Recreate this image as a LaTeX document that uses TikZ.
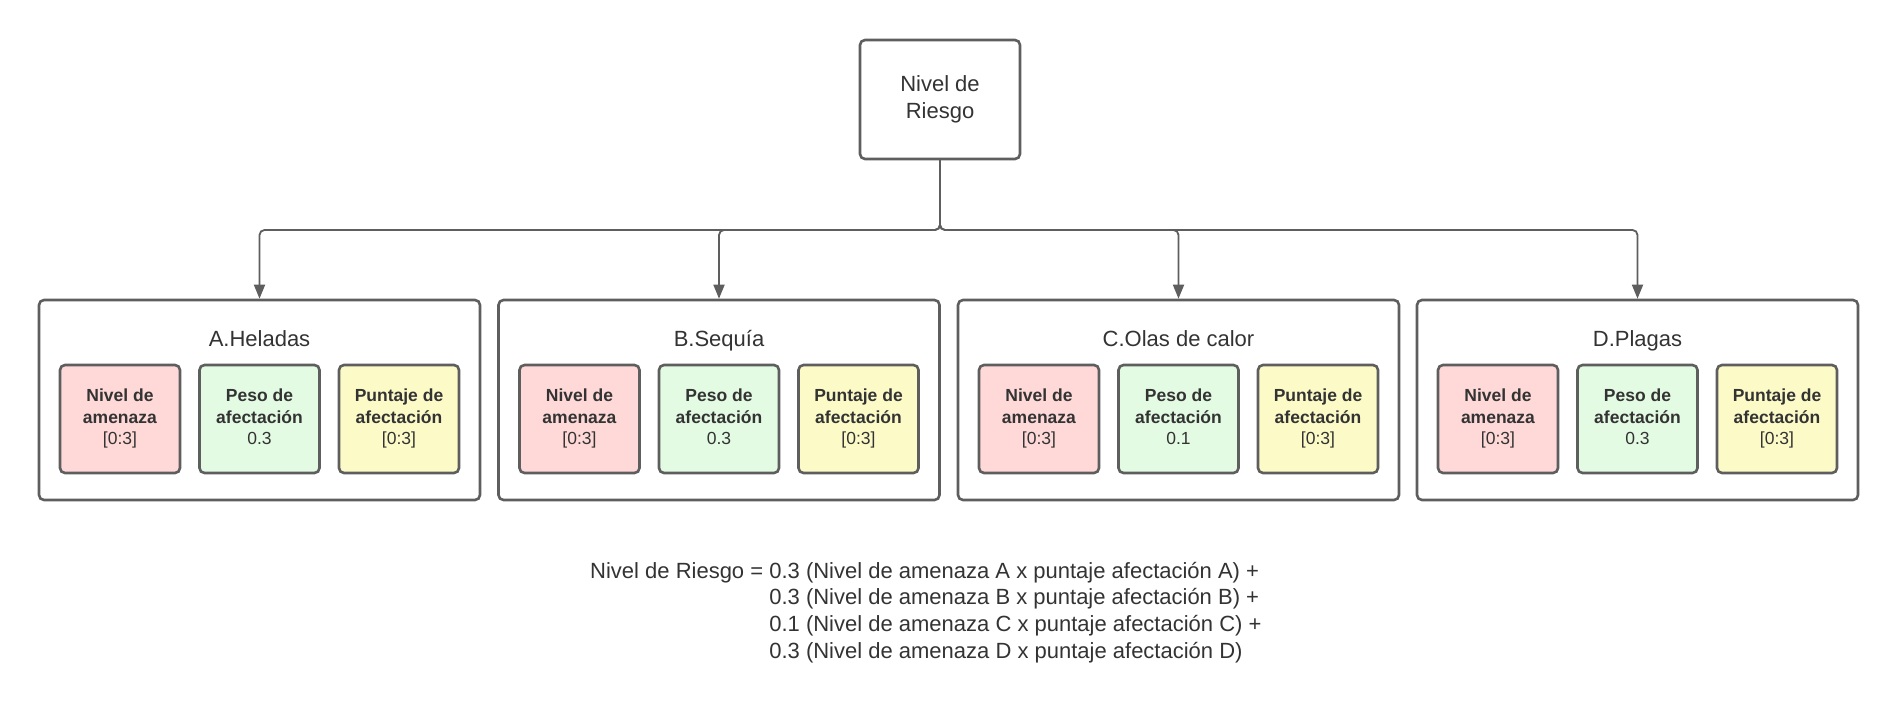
\documentclass[tikz,border=0pt]{standalone}
\usepackage{fontspec}
\setmainfont{Liberation Sans}
\usetikzlibrary{arrows.meta}
\definecolor{edge}{HTML}{5E5E5E}
\definecolor{txt}{HTML}{333333}
\definecolor{redf}{HTML}{FFD8D8}
\definecolor{greenf}{HTML}{E3FAE3}
\definecolor{yellowf}{HTML}{FCFBC8}
\tikzset{
  box/.style={draw=edge, line width=2.6pt, rounded corners=5pt, inner sep=0pt},
  topbox/.style={box, fill=white, minimum width=160pt, minimum height=119pt, align=center, text=txt, font=\fontsize{22}{26.5}\selectfont},
  group/.style={box, fill=white, minimum width=441pt, minimum height=200pt},
  inner/.style={box, minimum width=120pt, minimum height=108pt, align=center, text=txt, font=\fontsize{17.5}{21.5}\selectfont},
  gtitle/.style={text=txt, font=\fontsize{22}{26}\selectfont, inner sep=0pt, anchor=base},
  conn/.style={draw=edge, line width=1.8pt, rounded corners=5pt, -{Triangle[length=14pt,width=11pt]}},
}
\begin{document}
\begin{tikzpicture}[x=1pt,y=-1pt]
\useasboundingbox (0,0) rectangle (1897,720);
\node[topbox] (top) at (940,99.5) {Nivel de\\Riesgo};
\foreach \n/\gx/\title/\w in {A/39/A.Heladas/0.3, B/498.5/B.Sequía/0.3, C/958/C.Olas de calor/0.1, D/1417/D.Plagas/0.3}{
  \node[group] (\n) at ({\gx+220.5},400) {};
  \node[gtitle] (\n t) at ({\gx+220.5},346) {\title};
  \node[inner, fill=redf] (\n 1) at ({\gx+81},419) {\strut\textbf{Nivel de}\\\textbf{amenaza}\\{}[0:3]\strut};
  \node[inner, fill=greenf] (\n 2) at ({\gx+220.5},419) {\strut\textbf{Peso de}\\\textbf{afectación}\\\w\strut};
  \node[inner, fill=yellowf] (\n 3) at ({\gx+360},419) {\strut\textbf{Puntaje de}\\\textbf{afectación}\\{}[0:3]\strut};
}
\coordinate (j) at (940,230);
\foreach \n in {A,B,C,D}{
  \draw[conn] (top.south) -- (j) -| (\n.north);
}
\node[anchor=north west, inner sep=0pt, text=txt, font=\fontsize{22}{26.6}\selectfont] (f) at (590,559.5) {%
\begin{tabular}{@{}r@{ }l@{}}
Nivel de Riesgo = & 0.3 (Nivel de amenaza A x puntaje afectación A) +\\
 & 0.3 (Nivel de amenaza B x puntaje afectación B) +\\
 & 0.1 (Nivel de amenaza C x puntaje afectación C) +\\
 & 0.3 (Nivel de amenaza D x puntaje afectación D)
\end{tabular}};
\end{tikzpicture}
\end{document}
